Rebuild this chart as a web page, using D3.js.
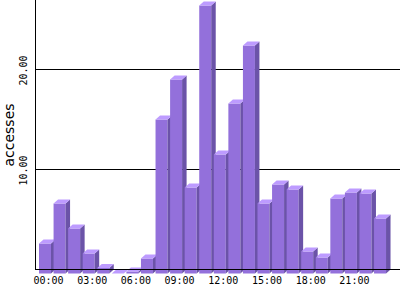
<!DOCTYPE html>
<html lang="en">
<head>
<meta charset="UTF-8">
<title>accesses per hour</title>
<script src="https://cdnjs.cloudflare.com/ajax/libs/d3/7.8.5/d3.min.js"></script>
<style>
    body { margin: 0; background: #fff; }
    svg { display: block; }
    .tick-label { font-family: 'DejaVu Sans Mono', monospace; font-size: 10px; fill: #000; }
    .axis-title { font-family: 'DejaVu Sans', sans-serif; font-size: 14px; fill: #000; }
</style>
</head>
<body>
<div id="chart"></div>
<script>
const hours = d3.range(24).map(h => String(h).padStart(2, '0') + ':00');
const accesses = [3.0, 7.0, 4.5, 2.0, 0.55, 0.0, 0.2, 1.5, 15.4, 19.4, 8.6, 26.8,
                  11.9, 17.0, 22.8, 7.0, 8.9, 8.4, 2.2, 1.6, 7.5, 8.1, 8.0, 5.5];
const xTicks = ['00:00', '03:00', '06:00', '09:00', '12:00', '15:00', '18:00', '21:00'];
const yTicks = [10, 20];

const W = 400, H = 300;
const dx = 4.5, dy = 4;          // 3D depth offset
const frontW = 12;

const svg = d3.select('#chart').append('svg')
    .attr('width', W).attr('height', H);

const x = d3.scaleBand().domain(hours).range([39, 388.6]).padding(0);
const y = d3.scaleLinear().domain([0, 27]).range([269.5, -0.5]);

// gridlines
svg.append('g').selectAll('line').data(yTicks).join('line')
    .attr('x1', 35.5).attr('x2', W)
    .attr('y1', d => Math.round(y(d)) - 0.5).attr('y2', d => Math.round(y(d)) - 0.5)
    .attr('stroke', '#000').attr('stroke-width', 1);

// bars
const bars = svg.append('g').selectAll('g').data(accesses).join('g');
bars.each(function(v, i) {
    const g = d3.select(this);
    const x0 = x(hours[i]);
    const yt = y(v) + dy;
    const yb = y(0) + dy;
    g.append('rect')
        .attr('x', x0).attr('y', yt)
        .attr('width', frontW).attr('height', Math.max(0, yb - yt))
        .attr('fill', '#9370db');
    g.append('polygon')
        .attr('points', [[x0 + frontW, yt], [x0 + frontW + dx, yt - dy], [x0 + frontW + dx, yb - dy], [x0 + frontW, yb]].join(' '))
        .attr('fill', '#6b53a8');
    g.append('polygon')
        .attr('points', [[x0, yt], [x0 + dx, yt - dy], [x0 + frontW + dx, yt - dy], [x0 + frontW, yt]].join(' '))
        .attr('fill', '#bd9bff');
});

// axes lines
svg.append('line')
    .attr('x1', 35.5).attr('x2', 35.5).attr('y1', 0).attr('y2', 270)
    .attr('stroke', '#000');
svg.append('line')
    .attr('x1', 35).attr('x2', W).attr('y1', 269.5).attr('y2', 269.5)
    .attr('stroke', '#000');

// x labels
svg.append('g').selectAll('text').data(xTicks).join('text')
    .attr('class', 'tick-label')
    .attr('x', d => x(d) + 9.5)
    .attr('y', 284)
    .attr('text-anchor', 'middle')
    .text(d => d);

// y labels
svg.append('g').selectAll('text').data(yTicks).join('text')
    .attr('class', 'tick-label')
    .attr('transform', d => `translate(26.5,${y(d) + 1}) rotate(-90)`)
    .attr('text-anchor', 'middle')
    .text(d => d.toFixed(2));

svg.append('text')
    .attr('class', 'axis-title')
    .attr('transform', `translate(14,${y(13.45)}) rotate(-90)`)
    .attr('text-anchor', 'middle')
    .text('accesses');
</script>
</body>
</html>
